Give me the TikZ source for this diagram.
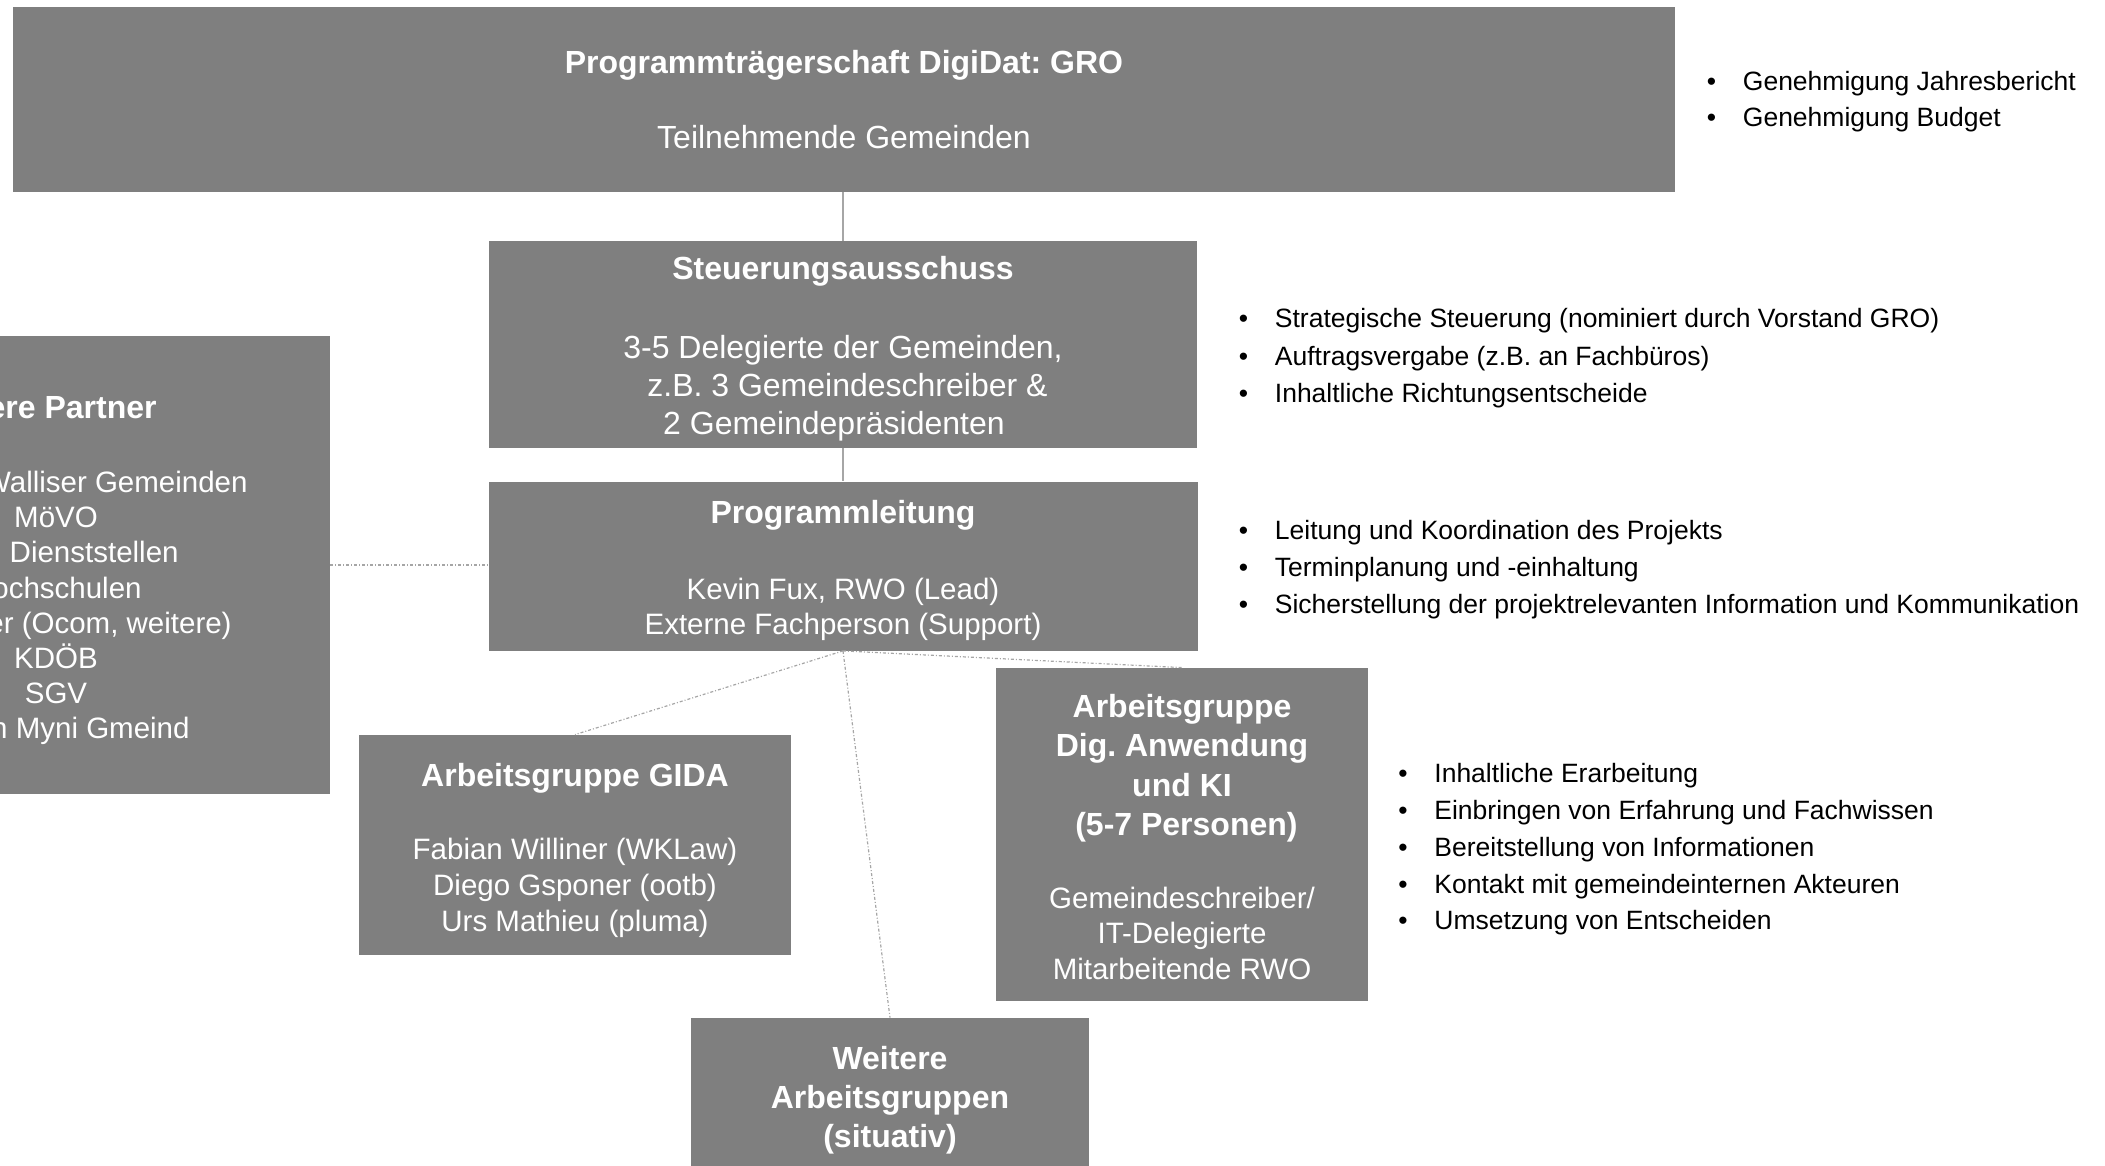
\documentclass[tikz,border=0pt]{standalone}
\usepackage{fontspec}
\setmainfont{Liberation Sans}
\frenchspacing
\definecolor{boxgray}{RGB}{127,127,127}
\definecolor{linegray}{RGB}{166,166,166}
\newcommand\boxttl[1]{{\bfseries\fontsize{16}{19}\selectfont #1}}
\newcommand\topstrut[1]{\rule{0pt}{#1}}
\begin{document}
\begin{tikzpicture}[x=0.5pt,y=-0.5pt,
  orgbox/.style={fill=boxgray,draw=none,text=white,align=center,inner sep=0pt},
  bodybig/.style={font=\fontsize{16}{19}\selectfont},
  bodysmall/.style={font=\fontsize{14.75}{18}\selectfont},
  solidlink/.style={draw=linegray,line width=0.6pt},
  dotlink/.style={draw=linegray,line width=0.6pt,dash pattern=on 1.5pt off 1pt on 0.5pt off 1pt},
  bullettext/.style={anchor=base west,inner sep=0pt,text=black,font=\fontsize{13.25}{16}\selectfont},
  partnertext/.style={anchor=base east,inner sep=0pt,text=white,font=\fontsize{14.75}{17.5}\selectfont}]
\useasboundingbox (0,0) rectangle (2105,1166);

% boxes
\node[orgbox,bodybig,minimum width=831pt,minimum height=92.5pt] (gro) at (844,99.5)
  {\boxttl{Programmträgerschaft DigiDat: GRO}\\[18.75pt] Teilnehmende Gemeinden};
\node[orgbox,bodybig,minimum width=354pt,minimum height=103pt] (steu) at (843,344.5)
  {\topstrut{15.8pt}\boxttl{Steuerungsausschuss}\\[20.5pt] 3-5 Delegierte der Gemeinden,\\ \hspace*{4.45pt}z.B. 3 Gemeindeschreiber \&\\ 2 Gemeindepräsidenten\hspace*{9pt}};
\node[orgbox,font=\fontsize{14.75}{17.25}\selectfont,minimum width=354.5pt,minimum height=84.5pt] (prog) at (843,566)
  {\topstrut{15.8pt}\boxttl{Programmleitung}\\[20.9pt] Kevin Fux, RWO (Lead)\\ Externe Fachperson (Support)};
\node[orgbox,minimum width=274pt,minimum height=229pt] (partner) at (56,565) {};
\node[orgbox,bodysmall,minimum width=216pt,minimum height=110pt] (gida) at (575,845)
  {\topstrut{17.2pt}\boxttl{Arbeitsgruppe GIDA}\\[18.75pt] Fabian Williner (WKLaw)\\ Diego Gsponer (ootb)\\ Urs Mathieu (pluma)};
\node[orgbox,font=\fontsize{14.75}{17.75}\selectfont,minimum width=186pt,minimum height=166.5pt] (agdig) at (1182,834.5)
  {\topstrut{14pt}\boxttl{Arbeitsgruppe}\\[1.9pt] \boxttl{Dig. Anwendung}\\[1.9pt] \boxttl{und KI}\\[1.9pt] \boxttl{\hspace*{4.45pt}(5-7 Personen)}\\[18.75pt] Gemeindeschreiber/\\ IT-Delegierte\\ Mitarbeitende RWO};
\node[orgbox,font=\fontsize{16}{19.5}\selectfont,minimum width=199pt,minimum height=78pt] (weitere) at (890,1096)
  {\topstrut{15.7pt}\boxttl{Weitere}\\ \boxttl{Arbeitsgruppen}\\ \boxttl{(situativ)}};

% partner box text (cut by the left page edge, as in the reference)
\node[partnertext,font=\bfseries\fontsize{16}{19}\selectfont] (p0) at (157,418) {ere Partner};
\node[partnertext] (p1) at (248,492) {Walliser Gemeinden};
\node[partnertext,anchor=base] (p2) at (56,527) {MöVO};
\node[partnertext] (p3) at (179,562) {Dienststellen};
\node[partnertext] (p4) at (142,598) {ochschulen};
\node[partnertext] (p5) at (232,633) {er (Ocom, weitere)};
\node[partnertext,anchor=base] (p6) at (56,668) {KDÖB};
\node[partnertext,anchor=base] (p7) at (56,703) {SGV};
\node[partnertext] (p8) at (190,738) {n Myni Gmeind};

% connectors
\draw[solidlink] (gro.south -| steu.north) -- (steu.north);
\draw[solidlink] (steu.south) -- (prog.north);
\draw[dotlink] (partner.east) -- (partner.east -| prog.west);
\draw[dotlink] (prog.south) -- (gida.north);
\draw[dotlink] (prog.south) -- (weitere.north);
\draw[dotlink] (prog.south) -- (agdig.north);

% bullet lists
\node[bullettext] (g1) at (1706.5,91) {\makebox[18pt][l]{•}Genehmigung Jahresbericht};
\node[bullettext] (g2) at (1706.5,127) {\makebox[18pt][l]{•}Genehmigung Budget};

\node[bullettext] (s1) at (1238.5,328) {\makebox[18pt][l]{•}Strategische Steuerung (nominiert durch Vorstand GRO)};
\node[bullettext] (s2) at (1238.5,365) {\makebox[18pt][l]{•}Auftragsvergabe (z.B. an Fachbüros)};
\node[bullettext] (s3) at (1238.5,402) {\makebox[18pt][l]{•}Inhaltliche Richtungsentscheide};

\node[bullettext] (l1) at (1238.5,539) {\makebox[18pt][l]{•}Leitung und Koordination des Projekts};
\node[bullettext] (l2) at (1238.5,576) {\makebox[18pt][l]{•}Terminplanung und -einhaltung};
\node[bullettext] (l3) at (1238.5,613) {\makebox[18pt][l]{•}Sicherstellung der projektrelevanten Information und Kommunikation};

\node[bullettext] (a1) at (1398,782) {\makebox[18pt][l]{•}Inhaltliche Erarbeitung};
\node[bullettext] (a2) at (1398,819) {\makebox[18pt][l]{•}Einbringen von Erfahrung und Fachwissen};
\node[bullettext] (a3) at (1398,856) {\makebox[18pt][l]{•}Bereitstellung von Informationen};
\node[bullettext] (a4) at (1398,893) {\makebox[18pt][l]{•}Kontakt mit gemeindeinternen Akteuren};
\node[bullettext] (a5) at (1398,929) {\makebox[18pt][l]{•}Umsetzung von Entscheiden};
\end{tikzpicture}
\end{document}
